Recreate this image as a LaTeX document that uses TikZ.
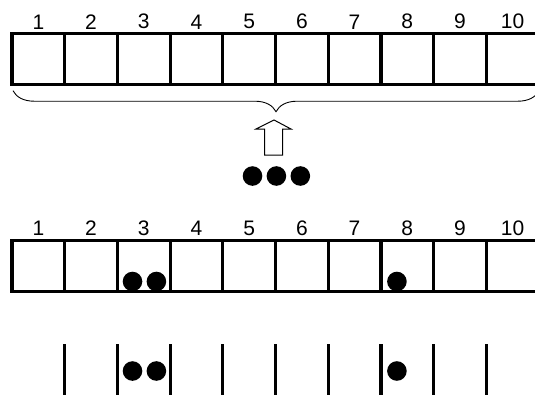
\documentclass[tikz,border=0pt]{standalone}
\usepackage{fontspec}
\setmainfont{Liberation Sans}
\usetikzlibrary{positioning, decorations.pathreplacing, calc}
\tikzstyle{cell} = [rectangle, draw=black, line width=3.2pt, minimum width=52.7pt, minimum height=51pt, inner sep=0pt, outer sep=0pt]
\tikzstyle{num} = [font=\fontsize{21}{22}\selectfont, inner sep=0pt]
\tikzstyle{ball} = [circle, fill=black, minimum size=19.6pt, inner sep=0pt]

\begin{document}
\begin{tikzpicture}[
  x=1pt, y=-1pt,
  brace/.style={decorate, decoration={brace, amplitude=21pt, mirror}, line width=0.9pt},
  hollow/.style={draw=black, line width=1pt, fill=white, line join=miter},
  wall/.style={line width=3.2pt}
]
\useasboundingbox (0,0) rectangle (535,394);

% Cells and numbers
\foreach \i in {1,...,10} {
  \node[cell] (top\i) at ({12+(\i-0.5)*52.7}, 59.2) {};
  \node[num, above=4.3pt of top\i] (toplab\i) {\i};
  \node[cell] (bot\i) at ({12+(\i-0.5)*52.7}, 265.8) {};
  \node[num, above=4.8pt of bot\i] (botlab\i) {\i};
}

% Brace and arrow
\draw[brace] ($(top1.south west)+(1,6)$) -- ($(top10.south east)+(0,6)$);
\coordinate (tip) at (274,120);
\draw[hollow] (tip) -- ++(17,9) -- ++(-8.5,0) -- ++(0,26) -- ++(-18,0) -- ++(0,-26) -- ++(-8.5,0) -- cycle;

% Balls
\node[ball] (m1) at (252.5,176) {};
\node[ball, right=3.9pt of m1] (m2) {};
\node[ball, right=3.9pt of m2] (m3) {};
\node[ball] (a1) at ($(bot3.west)+(15.1,15.7)$) {};
\node[ball, right=3.9pt of a1] (a2) {};
\node[ball] (a3) at ($(bot8.west)+(16,15.7)$) {};

% Walls below
\foreach \i in {1,...,9}
  \draw[wall] (bot\i.south east) ++(0,53) -- ++(0,60);
\node[ball] (b1) at ($(a1)+(0,89.5)$) {};
\node[ball] (b2) at ($(a2)+(0,89.5)$) {};
\node[ball] (b3) at ($(a3)+(0,89.5)$) {};

\end{tikzpicture}
\end{document}
